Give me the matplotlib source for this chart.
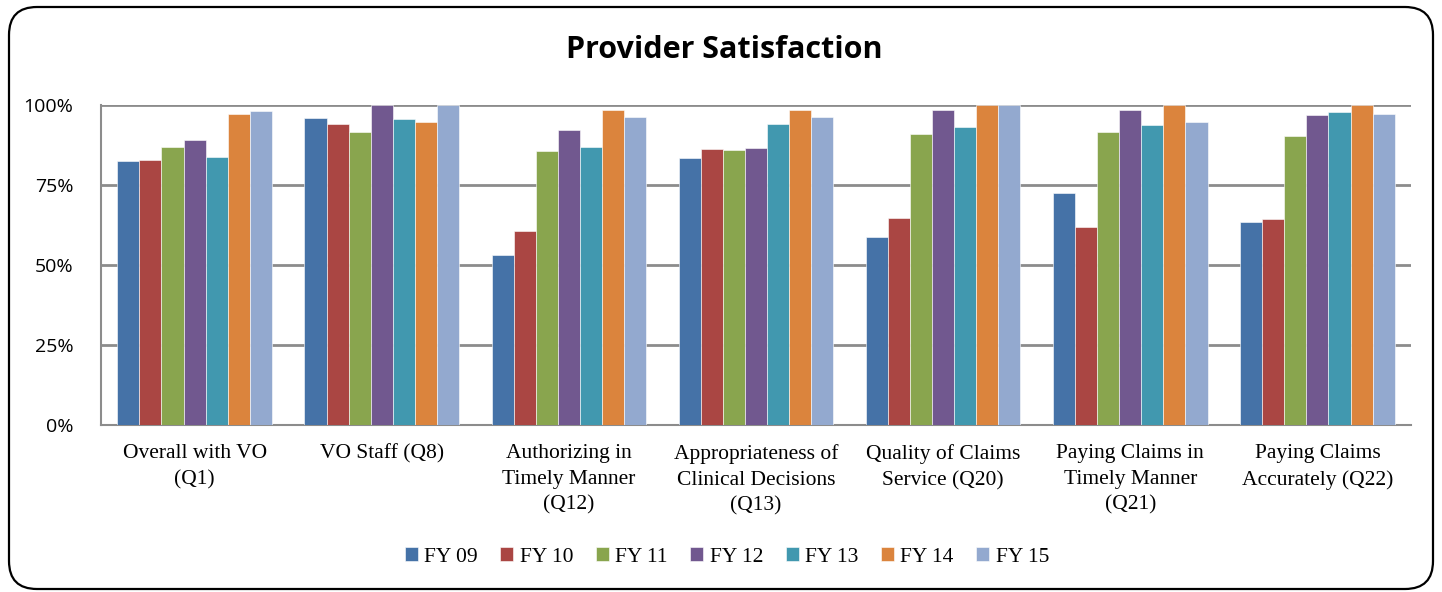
import matplotlib
matplotlib.use("Agg")
import matplotlib.pyplot as plt
from matplotlib.patches import FancyBboxPatch
from matplotlib.ticker import PercentFormatter
import numpy as np

categories = [
    "Overall with VO\n(Q1)",
    "VO Staff (Q8)",
    "Authorizing in\nTimely Manner\n(Q12)",
    "Appropriateness of\nClinical Decisions\n(Q13)",
    "Quality of Claims\nService (Q20)",
    "Paying Claims in\nTimely Manner\n(Q21)",
    "Paying Claims\nAccurately (Q22)",
]
series_names = ["FY 09", "FY 10", "FY 11", "FY 12", "FY 13", "FY 14", "FY 15"]

fy09 = [82.4, 95.9, 53.1, 83.5, 58.8, 72.5, 63.3]
fy10 = [82.9, 94.1, 60.6, 86.2, 64.7, 61.9, 64.3]
fy11 = [87.0, 91.5, 85.5, 85.8, 90.9, 91.5, 90.2]
fy12 = [89.2, 100.0, 92.2, 86.7, 98.5, 98.4, 96.9]
fy13 = [83.9, 95.5, 86.9, 94.1, 93.2, 93.8, 97.8]
fy14 = [97.3, 94.7, 98.4, 98.3, 100.0, 100.0, 100.0]
fy15 = [98.2, 100.0, 96.1, 96.1, 100.0, 94.8, 97.3]
series = [fy09, fy10, fy11, fy12, fy13, fy14, fy15]

COLORS = ["#4572A7", "#AA4643", "#89A54E", "#71588F", "#4198AF", "#DB843D", "#93A9CF"]
GRID = "#8C8C8C"

fig = plt.figure(figsize=(14.42, 5.92), dpi=100, facecolor="white")

# rounded outer frame
frame = fig.add_axes([0, 0, 1, 1])
frame.set_xlim(0, 1442); frame.set_ylim(592, 0)
frame.set_axis_off()
frame.add_patch(FancyBboxPatch((9, 7), 1424, 582, boxstyle="round,pad=0,rounding_size=28",
                               facecolor="white", edgecolor="black", linewidth=1.6))
frame.text(724, 50, "Provider Satisfaction", ha="center", va="center",
           fontsize=22, fontweight="bold", family="Open Sans", color="black")

# plot area: x 101..1411, y 105..425 px
ax = fig.add_axes([101 / 1442, 1 - 425 / 592, 1310 / 1442, 320 / 592])
ax.set_facecolor("none")

n = len(series)
width = 0.118
x = np.arange(len(categories))
for i, (vals, name, c) in enumerate(zip(series, series_names, COLORS)):
    offs = (i - (n - 1) / 2) * width
    ax.bar(x + offs, np.array(vals) / 100, width, color=c, label=name,
           edgecolor="white", linewidth=0.4, zorder=3)

ax.set_xlim(-0.5, len(categories) - 0.5)
ax.set_ylim(0, 1.0)
ax.set_yticks([0, 0.25, 0.5, 0.75, 1.0])
ax.yaxis.set_major_formatter(PercentFormatter(1.0, decimals=0))
ax.grid(axis="y", color=GRID, linewidth=2, zorder=0)
ax.set_axisbelow(True)
for s in ["top", "right"]:
    ax.spines[s].set_visible(False)
for s in ["left", "bottom"]:
    ax.spines[s].set_color(GRID)
    ax.spines[s].set_linewidth(1.5)

ax.set_xticks(x)
ax.set_xticklabels(categories, family="Liberation Serif", fontsize=15.5, linespacing=1.45)
ax.tick_params(axis="x", length=0, pad=14)
ax.tick_params(axis="y", length=0, pad=20, labelsize=14)
for lab in ax.get_yticklabels():
    lab.set_family("Open Sans")

leg = fig.legend(loc="center", bbox_to_anchor=(727 / 1442, 1 - 557 / 592), ncol=7,
                 frameon=False, prop={"family": "Liberation Serif", "size": 15.5},
                 handlelength=0.6, handleheight=0.6, handletextpad=0.3, columnspacing=1.05)

fig.savefig("out.png", dpi=100, facecolor="white")
